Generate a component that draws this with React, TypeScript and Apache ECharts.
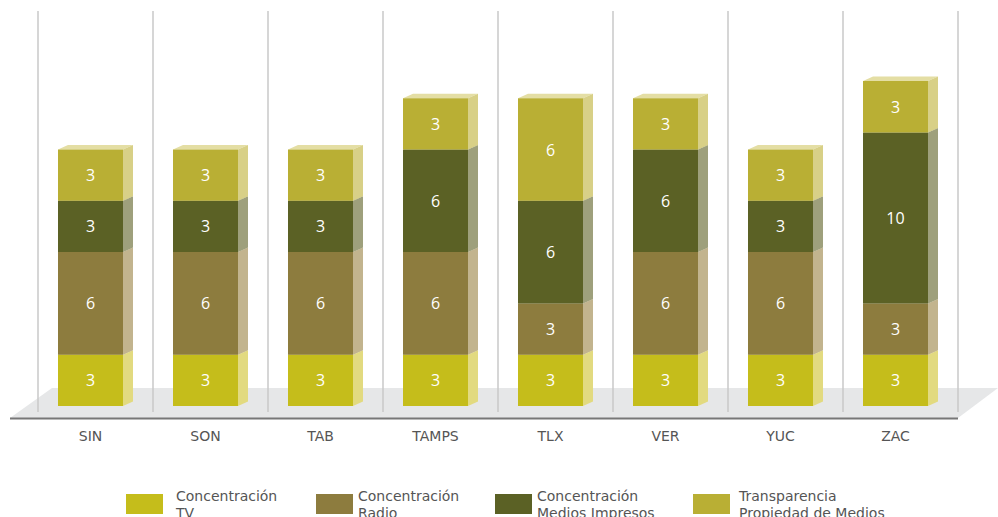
import React, { useEffect, useRef } from "react";
import * as echarts from "echarts";

const categories = ["SIN", "SON", "TAB", "TAMPS", "TLX", "VER", "YUC", "ZAC"];
const seriesNames = [
  "Concentración TV",
  "Concentración Radio",
  "Concentración Medios Impresos",
  "Transparencia Propiedad de Medios",
];
const legendLabels = [
  "Concentración\nTV",
  "Concentración\nRadio",
  "Concentración\nMedios Impresos",
  "Transparencia\nPropiedad de Medios",
];
const tv = [3, 3, 3, 3, 3, 3, 3, 3];
const radio = [6, 6, 6, 6, 3, 6, 6, 3];
const impresos = [3, 3, 3, 6, 6, 6, 3, 10];
const transparencia = [3, 3, 3, 3, 6, 3, 3, 3];

const frontColors = ["#c5bd1b", "#8d7c3e", "#5b6125", "#b9af34"];
const sideColors = ["#e2da80", "#c2b48e", "#9ea07c", "#d8d087"];
const topColors = ["#ece6a8", "#d6cba8", "#b8baa0", "#e4dea4"];
const legendLeft = [126, 316, 495, 693];
const legendTextPad = [8, 0, 0, 4];

export default function App() {
  const ref = useRef<HTMLDivElement>(null);
  useEffect(() => {
    document.body.style.margin = "0";
    if (!ref.current) return;
    const chart = echarts.init(ref.current, null, { renderer: "svg" });
    const all = [tv, radio, impresos, transparencia];
    const cum = categories.map(() => 0);
    const series = all.map((vals, si) => {
      const data = vals.map((v, ci) => {
        const base = cum[ci];
        cum[ci] += v;
        return [ci, base, base + v, v];
      });
      return {
        type: "custom",
        name: seriesNames[si],
        itemStyle: { color: frontColors[si] },
        z: 2 + si,
        data,
        renderItem: (params: any, api: any) => {
          const ci = api.value(0);
          const base = api.value(1);
          const top = api.value(2);
          const val = api.value(3);
          const p0 = api.coord([ci, base]);
          const p1 = api.coord([ci, top]);
          const w = 65;
          const dx = 10;
          const dy = 4.5;
          const cx = p0[0] - 5;
          const x0 = cx - w / 2;
          const x1 = cx + w / 2;
          const yb = p0[1];
          const yt = p1[1];
          return {
            type: "group",
            children: [
              {
                type: "polygon",
                shape: { points: [[x0, yt], [x1, yt], [x1 + dx, yt - dy], [x0 + dx, yt - dy]] },
                style: { fill: topColors[si] },
              },
              {
                type: "polygon",
                shape: { points: [[x1, yb], [x1 + dx, yb - dy], [x1 + dx, yt - dy], [x1, yt]] },
                style: { fill: sideColors[si] },
              },
              {
                type: "rect",
                shape: { x: x0, y: yt, width: w, height: yb - yt },
                style: { fill: frontColors[si] },
              },
              {
                type: "text",
                style: {
                  text: String(val),
                  x: cx,
                  y: (yt + yb) / 2,
                  align: "center",
                  verticalAlign: "middle",
                  fill: "#ffffff",
                  font: "16px 'Open Sans', sans-serif",
                },
              },
            ],
          };
        },
      };
    });

    const option: any = {
      animation: false,
      grid: { left: 38, right: 40, top: 11, bottom: 105 },
      xAxis: {
        type: "category",
        data: categories,
        boundaryGap: true,
        axisLine: { show: false },
        axisTick: { show: false },
        splitLine: { show: true, lineStyle: { color: "#c9c9c9", width: 1.5 } },
        axisLabel: {
          color: "#555555",
          fontSize: 14,
          fontFamily: "'DejaVu Sans', sans-serif",
          margin: 17,
          padding: [0, 10, 0, 0],
        },
      },
      yAxis: {
        type: "value",
        min: -0.35,
        max: 23.1,
        show: false,
        splitLine: { show: false },
      },
      legend: seriesNames.map((n, i) => ({
        left: legendLeft[i],
        top: 487,
        padding: 0,
        data: [{ name: n, icon: "rect" }],
        itemWidth: 37,
        itemHeight: 20,
        formatter: () => legendLabels[i],
        textStyle: {
          color: "#555555",
          fontSize: 14,
          lineHeight: 17,
          fontFamily: "'DejaVu Sans', sans-serif",
          padding: [0, 0, 0, legendTextPad[i]],
        },
        selectedMode: false,
      })),
      graphic: [
        {
          type: "polygon",
          z: -10,
          shape: { points: [[10, 418], [958, 418], [998, 388], [52, 388]] },
          style: { fill: "#e6e7e8" },
        },
        {
          type: "line",
          z: -5,
          shape: { x1: 10, y1: 418.5, x2: 958, y2: 418.5 },
          style: { stroke: "#777777", lineWidth: 2 },
        },
      ],
      series,
    };
    chart.setOption(option);
    return () => chart.dispose();
  }, []);
  return <div ref={ref} style={{ width: 998, height: 517 }} />;
}
